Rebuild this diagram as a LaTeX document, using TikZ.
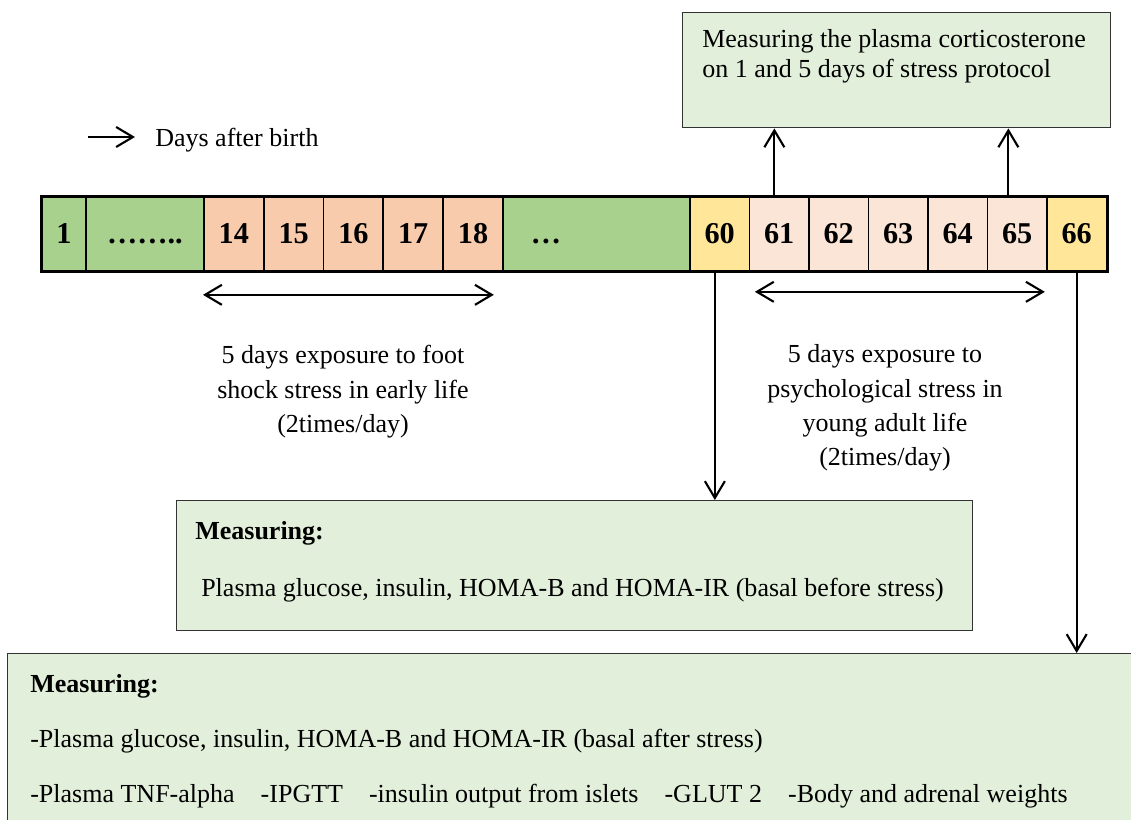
\documentclass[tikz,border=0pt]{standalone}
\usepackage{fontspec}
\setmainfont{Liberation Serif}
\usetikzlibrary{arrows.meta,positioning}

\definecolor{daygreen}{HTML}{A9D18E}
\definecolor{daysalmon}{HTML}{F8CBAD}
\definecolor{dayyellow}{HTML}{FFE699}
\definecolor{daypink}{HTML}{FBE5D6}
\definecolor{boxgreen}{HTML}{E2EFDA}

\tikzset{
  daycell/.style={draw=black, line width=1.3pt, minimum height=18.5mm, anchor=north west, inner sep=0pt, font=\fontsize{21.5}{24}\selectfont\bfseries},
  notebox/.style={draw=black!80, line width=1pt, fill=boxgreen, anchor=north west, inner sep=0pt},
  onearrow/.style={-{Straight Barb[length=4.2mm,width=5mm]}, line width=1.5pt},
  twoarrow/.style={{Straight Barb[length=4.2mm,width=5mm]}-{Straight Barb[length=4.2mm,width=5mm]}, line width=1.5pt}
}

\begin{document}
\begin{tikzpicture}[x=0.25mm, y=-0.25mm, font=\fontsize{18.5}{22}\selectfont]
      \useasboundingbox (0,0) rectangle (1131,820);
      \clip (0,0) rectangle (1131,820);

      % Legend arrow
      \coordinate (legstart) at (88,137);
      \coordinate (legtip) at (135,137);
      \draw[onearrow] (legstart) -- (legtip);
      \node[anchor=west, inner sep=0pt] (legtext) at (155,140) {Days after birth};

      % Time line of days
      \node[daycell, fill=daygreen, minimum width=11mm] (c1) at (41,196) {1};
      \node[daycell, fill=daygreen, minimum width=29.5mm] (cdots) at (85,196) {\vphantom{1}……..};
      \foreach \d [count=\i from 0] in {14,...,18}
        \node[daycell, fill=daysalmon, minimum width=14.95mm] (c\d) at ({203+59.8*\i},196) {\d};
      \node[daycell, fill=daygreen, minimum width=46.75mm,
        label={[anchor=west, xshift=6mm, font=\fontsize{21.5}{24}\selectfont\bfseries]west:\vphantom{1}…}] (cgap) at (502,196) {};
      \node[daycell, fill=dayyellow, minimum width=14.875mm] (c60) at (689,196) {60};
      \foreach \d [count=\i from 1] in {61,...,65}
        \node[daycell, fill=daypink, minimum width=14.875mm] (c\d) at ({689+59.5*\i},196) {\d};
      \node[daycell, fill=dayyellow, minimum width=14.875mm] (c66) at (1046,196) {66};
      \draw[line width=1.8pt] (c1.north west) rectangle (c66.south east);

      % Corticosterone box on top
      \node[notebox, minimum width=107mm, minimum height=28.75mm] (cortbox) at (682,12) {};
      \node[anchor=north west, align=left, inner sep=0pt, font=\fontsize{18.5}{21.3}\selectfont] at ([xshift=5mm, yshift=-4.2mm]cortbox.north west) {%
Measuring the plasma corticosterone\\
on 1 and 5 days of stress protocol};
      \draw[onearrow] ([xshift=-1.2mm]c61.north) -- ([xshift=-1.2mm]c61.north |- cortbox.south);
      \draw[onearrow] ([xshift=-2.2mm]c65.north) -- ([xshift=-2.2mm]c65.north |- cortbox.south);

      % Stress periods
      \draw[twoarrow] ([yshift=-5.75mm]c14.south west) -- ([xshift=-2.5mm, yshift=-5.75mm]c18.south east);
      \draw[twoarrow] ([xshift=1.6mm, yshift=-5mm]c61.south west) -- ([xshift=-0.75mm, yshift=-5mm]c65.south east);
      \node[align=center, font=\fontsize{18.5}{24.5}\selectfont] (earlytext) at (343,392) {%
5 days exposure to foot\\
shock stress in early life\\
(2times/day)};
      \node[align=center, font=\fontsize{18.5}{24.5}\selectfont] (youngtext) at (885,408) {%
5 days exposure to\\
psychological stress in\\
young adult life\\
(2times/day)};

      % Measurements before stress
      \node[notebox, minimum width=199mm, minimum height=32.5mm] (basalbox) at (176,500) {};
      \node[anchor=north west, align=left, inner sep=0pt, font=\fontsize{18.5}{41}\selectfont] at ([xshift=4.75mm, yshift=-5.2mm]basalbox.north west) {%
\textbf{Measuring:}\\
\hspace*{1.5mm}Plasma glucose, insulin, HOMA-B and HOMA-IR (basal before stress)};
      \draw[onearrow] ([xshift=-1.2mm]c60.south) -- ([xshift=-1.2mm]c60.south |- basalbox.north);

      % Measurements after stress
      \node[notebox, minimum width=283mm, minimum height=45mm] (afterbox) at (7,653) {};
      \node[anchor=north west, align=left, inner sep=0pt, font=\fontsize{18.5}{39}\selectfont] at ([xshift=5.75mm, yshift=-5.4mm]afterbox.north west) {%
\textbf{Measuring:}\\
-Plasma glucose, insulin, HOMA-B and HOMA-IR (basal after stress)\\
-Plasma TNF-alpha\quad -IPGTT\quad -insulin output from islets\quad -GLUT 2\quad -Body and adrenal weights};
      \draw[onearrow] (c66.south) -- (c66.south |- afterbox.north);
    \end{tikzpicture}
\end{document}
